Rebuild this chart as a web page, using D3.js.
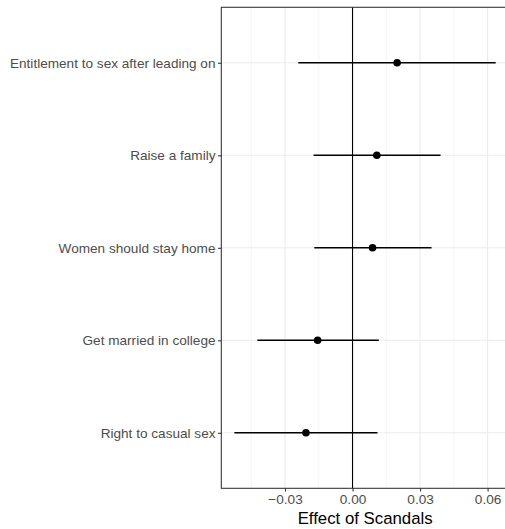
<!DOCTYPE html>
<html>
<head>
<meta charset="utf-8">
<script src="https://cdn.jsdelivr.net/npm/d3@7"></script>
<style>
  html, body { margin: 0; padding: 0; background: #fff; }
  svg { display: block; font-family: "Liberation Sans", Arial, sans-serif; }
</style>
</head>
<body>
<svg id="chart" width="505" height="529"></svg>
<script>
// Outcome items, top to bottom
const items = [
  "Entitlement to sex after leading on",
  "Raise a family",
  "Women should stay home",
  "Get married in college",
  "Right to casual sex"
];
// Point estimates and 95% interval bounds
const estimate = [0.0198, 0.0108, 0.0089, -0.0155, -0.0207];
const lower    = [-0.0241, -0.0173, -0.0170, -0.0423, -0.0525];
const upper    = [0.0636, 0.0391, 0.0351, 0.0117, 0.0111];
const xTicks = [-0.03, 0.00, 0.03, 0.06];
const xMinor = [-0.045, -0.015, 0.015, 0.045];
const xTitle = "Effect of Scandals";

const rows = items.map((name, i) => ({ name, est: estimate[i], lo: lower[i], hi: upper[i] }));

const svg = d3.select("#chart");
const W = 505, H = 529;
const panel = { left: 221.3, top: 7.3, bottom: 488.3 };

const x = d3.scaleLinear().domain([-0.0583, 0.0700]).range([panel.left, panel.left + 0.1283 * 2251]);
const y = d3.scalePoint().domain(items).range([panel.top, panel.bottom]).padding(0.6);

const g = svg.append("g");

// clip to panel
svg.append("defs").append("clipPath").attr("id", "pc")
  .append("rect").attr("x", panel.left).attr("y", panel.top)
  .attr("width", W - panel.left).attr("height", panel.bottom - panel.top);

const body = g.append("g").attr("clip-path", "url(#pc)");

// minor grid
body.selectAll("line.minor").data(xMinor).join("line")
  .attr("x1", d => x(d)).attr("x2", d => x(d))
  .attr("y1", panel.top).attr("y2", panel.bottom)
  .attr("stroke", "#ebebeb").attr("stroke-width", 0.55);
// major grid
body.selectAll("line.majx").data(xTicks).join("line")
  .attr("x1", d => x(d)).attr("x2", d => x(d))
  .attr("y1", panel.top).attr("y2", panel.bottom)
  .attr("stroke", "#ebebeb").attr("stroke-width", 1.07);
body.selectAll("line.majy").data(items).join("line")
  .attr("x1", panel.left).attr("x2", W)
  .attr("y1", d => y(d)).attr("y2", d => y(d))
  .attr("stroke", "#ebebeb").attr("stroke-width", 1.07);

// zero reference line
body.append("line")
  .attr("x1", x(0)).attr("x2", x(0))
  .attr("y1", panel.top).attr("y2", panel.bottom)
  .attr("stroke", "#000").attr("stroke-width", 1.1);

// interval lines
body.selectAll("line.ci").data(rows).join("line")
  .attr("x1", d => x(d.lo)).attr("x2", d => x(d.hi))
  .attr("y1", d => y(d.name)).attr("y2", d => y(d.name))
  .attr("stroke", "#000").attr("stroke-width", 1.4);

// estimate points
body.selectAll("circle").data(rows).join("circle")
  .attr("cx", d => x(d.est)).attr("cy", d => y(d.name))
  .attr("r", 3.8).attr("fill", "#000");

// panel border (right side runs past the canvas)
g.append("rect")
  .attr("x", panel.left).attr("y", panel.top)
  .attr("width", W + 10 - panel.left).attr("height", panel.bottom - panel.top)
  .attr("fill", "none").attr("stroke", "#333333").attr("stroke-width", 1.07);

// x axis
const xa = g.append("g").attr("transform", `translate(0,${panel.bottom})`)
  .call(d3.axisBottom(x).tickValues(xTicks).tickSize(3.3).tickPadding(2.5)
    .tickFormat(d => d3.format(".2f")(d).replace("-", "\u2212")));
xa.select(".domain").remove();
xa.selectAll(".tick line").attr("stroke", "#333333").attr("stroke-width", 1.07);
xa.selectAll(".tick text").attr("fill", "#4d4d4d").attr("font-size", 13.6)
  .attr("font-family", "Liberation Sans, Arial, sans-serif");

// y axis
const ya = g.append("g").attr("transform", `translate(${panel.left},0)`)
  .call(d3.axisLeft(y).tickSize(3.3).tickPadding(2.5));
ya.select(".domain").remove();
ya.selectAll(".tick line").attr("stroke", "#333333").attr("stroke-width", 1.07);
ya.selectAll(".tick text").attr("fill", "#4d4d4d").attr("font-size", 13.6)
  .attr("font-family", "Liberation Sans, Arial, sans-serif");

// axis title
g.append("text")
  .attr("x", (panel.left + W) / 2 + 2).attr("y", 524)
  .attr("text-anchor", "middle").attr("font-size", 16.8).attr("fill", "#000")
  .text(xTitle);
</script>
</body>
</html>
